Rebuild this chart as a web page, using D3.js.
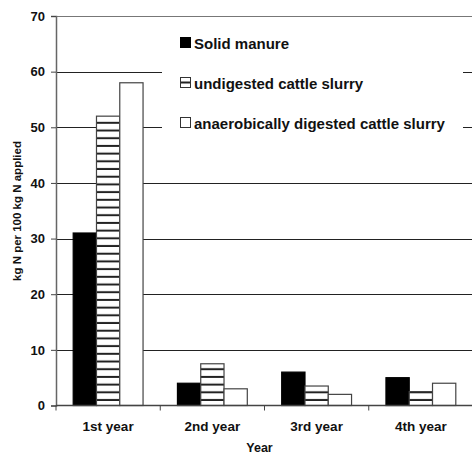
<!DOCTYPE html>
<html lang="en">
<head>
  <meta charset="UTF-8">
  <title>N release by year</title>
  <script src="https://d3js.org/d3.v7.min.js"></script>
  <style>
    body { margin: 0; background: white; font-family: "Liberation Sans", Arial, sans-serif; }
    svg text { font-weight: bold; fill: #111; }
  </style>
</head>
<body>
  <svg id="chart" width="472" height="453"></svg>
  <script>
    const years = ["1st year", "2nd year", "3rd year", "4th year"];
    const series = ["Solid manure", "undigested cattle slurry", "anaerobically digested cattle slurry"];
    const solidManure = [31, 4, 6, 5];
    const undigested = [52, 7.5, 3.5, 2.5];
    const digested = [58, 3, 2, 4];
    const yTicks = [0, 10, 20, 30, 40, 50, 60, 70];

    const values = [solidManure, undigested, digested];
    const fills = ["#000", "url(#stripes)", "#fff"];

    const svg = d3.select("#chart"),
      margin = {top: 16, right: -1, bottom: 47.5, left: 56},
      width = +svg.attr("width") - margin.left - margin.right,
      height = +svg.attr("height") - margin.top - margin.bottom;

    const defs = svg.append("defs");
    const pat = defs.append("pattern")
      .attr("id", "stripes")
      .attr("patternUnits", "userSpaceOnUse")
      .attr("width", 8).attr("height", 7.7);
    pat.append("rect").attr("width", 8).attr("height", 7.7).attr("fill", "#fff");
    pat.append("rect").attr("y", 5.7).attr("width", 8).attr("height", 2).attr("fill", "#222");

    const legendPat = defs.append("pattern")
      .attr("id", "stripesSmall")
      .attr("patternUnits", "objectBoundingBox")
      .attr("width", 1).attr("height", 1);
    legendPat.append("rect").attr("width", 10).attr("height", 10).attr("fill", "#fff");
    legendPat.append("rect").attr("y", 4).attr("width", 10).attr("height", 2).attr("fill", "#222");

    const chart = svg.append("g")
      .attr("transform", `translate(${margin.left},${margin.top})`);

    const y = d3.scaleLinear().domain([0, 70]).range([height, 0]);
    const x0 = d3.scaleBand().domain(years).range([0, width]);
    const x1 = d3.scaleBand().domain(series)
      .range([x0.bandwidth() * 0.165, x0.bandwidth() * 0.835]);

    // gridlines
    chart.append("g").selectAll("line")
      .data(yTicks.filter(d => d > 0))
      .enter().append("line")
      .attr("x1", 0).attr("x2", width)
      .attr("y1", d => Math.round(y(d)) + 0.5).attr("y2", d => Math.round(y(d)) + 0.5)
      .attr("stroke", d => d === 70 ? "#777" : "#222")
      .attr("stroke-width", 1);

    // legend background hides gridlines
    chart.append("rect")
      .attr("x", 106).attr("y", 6)
      .attr("width", 301).attr("height", 140)
      .attr("fill", "#fff");

    // bars
    series.forEach((s, i) => {
      chart.append("g").selectAll("rect")
        .data(years.map((yr, j) => ({year: yr, value: values[i][j]})))
        .enter().append("rect")
        .attr("x", d => x0(d.year) + x1(s))
        .attr("y", d => y(d.value))
        .attr("width", x1.bandwidth())
        .attr("height", d => y(0) - y(d.value))
        .attr("fill", fills[i])
        .attr("stroke", i === 0 ? "#000" : "#444")
        .attr("stroke-width", 1.2);
    });

    // y axis
    const yAxis = chart.append("g")
      .call(d3.axisLeft(y).tickValues(yTicks).tickSize(5).tickPadding(6));
    yAxis.select(".domain").attr("stroke", "#666").attr("stroke-width", 1.5);
    yAxis.selectAll(".tick line").attr("stroke", "#444");
    yAxis.selectAll("text").style("font-size", "13px").style("font-family", "Liberation Sans, Arial, sans-serif");

    // x axis
    const xAxis = chart.append("g")
      .attr("transform", `translate(0,${height})`);
    xAxis.append("line")
      .attr("x1", 0).attr("x2", width).attr("y1", 0).attr("y2", 0)
      .attr("stroke", "#444").attr("stroke-width", 1.5);
    xAxis.selectAll(".tk")
      .data(years)
      .enter().append("line")
      .attr("x1", d => x0(d)).attr("x2", d => x0(d))
      .attr("y1", 0).attr("y2", 5)
      .attr("stroke", "#444");
    xAxis.selectAll(".lbl")
      .data(years)
      .enter().append("text")
      .attr("x", d => x0(d) + x0.bandwidth() / 2)
      .attr("y", 25.5)
      .attr("text-anchor", "middle")
      .style("font-size", "13.5px")
      .text(d => d);

    chart.append("text")
      .attr("x", width / 2 - 5).attr("y", height + 46)
      .attr("text-anchor", "middle")
      .style("font-size", "12.5px")
      .text("Year");

    chart.append("text")
      .attr("transform", "rotate(-90)")
      .attr("x", -195).attr("y", -35)
      .attr("text-anchor", "middle")
      .style("font-size", "11.5px")
      .text("kg N per 100 kg N applied");

    // legend
    const legend = chart.append("g").attr("transform", "translate(124,22)");
    const legendFills = ["#000", "url(#stripesSmall)", "#fff"];
    series.forEach((s, i) => {
      const g = legend.append("g").attr("transform", `translate(0,${i * 40})`);
      g.append("rect")
        .attr("x", 0.5).attr("y", -0.5)
        .attr("width", 10).attr("height", 10)
        .attr("fill", legendFills[i])
        .attr("stroke", i === 0 ? "#000" : "#333");
      g.append("text")
        .attr("x", 14).attr("y", 10.5)
        .style("font-size", "15px")
        .text(s);
    });
  </script>
</body>
</html>
